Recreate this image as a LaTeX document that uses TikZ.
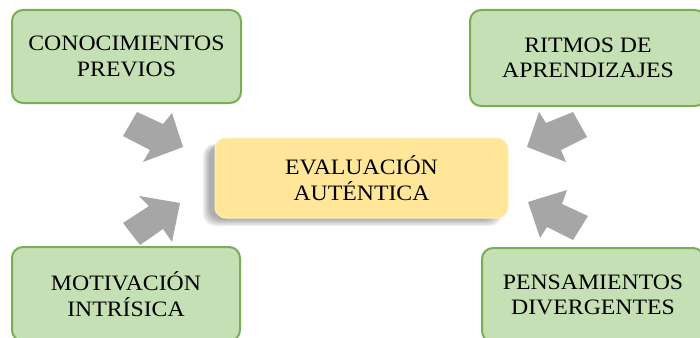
\documentclass[tikz,border=0pt]{standalone}
\usepackage{fontspec}
\setmainfont{Liberation Serif}[FakeStretch=1.08]
\definecolor{gfill}{HTML}{C5E0B4}
\definecolor{gedge}{HTML}{7AAE55}
\definecolor{yfill}{HTML}{FFE699}
\definecolor{afill}{HTML}{A6A6A6}
\tikzset{
  greenbox/.style={draw=gedge, line width=2pt, fill=gfill, rounded corners=11pt,
    align=center, font=\fontsize{22}{25.5}\selectfont, inner sep=0pt},
  centerbox/.style={draw=yfill!60!white, line width=1pt, fill=yfill, rounded corners=11pt,
    align=center, font=\fontsize{22}{26}\selectfont, inner sep=0pt},
  shadowlayer/.style={fill=black, opacity=0.07, rounded corners=12pt},
  blockarrow/.style={fill=afill, draw=none}
}
\begin{document}
\begin{tikzpicture}[x=1pt,y=-1pt]
\useasboundingbox (0,0) rectangle (700,337);
\clip (0,0) rectangle (700,337);
\fill[white] (0,0) rectangle (700,337);
% blurred shadow of centre box
\foreach \d in {0,1.5,3,4.5,6}{
  \fill[shadowlayer] (215-12+\d,138+6+\d*0.3) rectangle (508-6-\d,218+8-\d);
}
% boxes
\node[greenbox, minimum width=229pt, minimum height=93pt] (cp) at (126.5,56.5) {CONOCIMIENTOS\\PREVIOS};
\node[greenbox, minimum width=236pt, minimum height=96pt] (ra) at (588,58) {RITMOS DE\\APRENDIZAJES};
\node[greenbox, minimum width=228pt, minimum height=94pt] (mi) at (126,294) {MOTIVACIÓN\\INTRÍSICA};
\node[greenbox, minimum width=222pt, minimum height=94pt] (pd) at (593,295) {PENSAMIENTOS\\DIVERGENTES};
\node[centerbox, minimum width=293pt, minimum height=80pt] (ea) at (361.5,178) {EVALUACIÓN\\AUTÉNTICA};
% block arrows
\fill[blockarrow] (137,112) -- (163,124) -- (172,113) -- (183,147) -- (143,162) -- (150,150) -- (123,136) -- cycle;
\fill[blockarrow] (123,223) -- (149,206) -- (139,196) -- (180,203) -- (172,242) -- (163,229) -- (140,245) -- cycle;
\fill[blockarrow] (573,112) -- (587,137) -- (561,150) -- (566,162) -- (527,147) -- (539,112) -- (546,123) -- cycle;
\fill[blockarrow] (528,202) -- (567,190) -- (562,204) -- (588,216) -- (573,240) -- (547,227) -- (540,238) -- cycle;
\end{tikzpicture}
\end{document}
